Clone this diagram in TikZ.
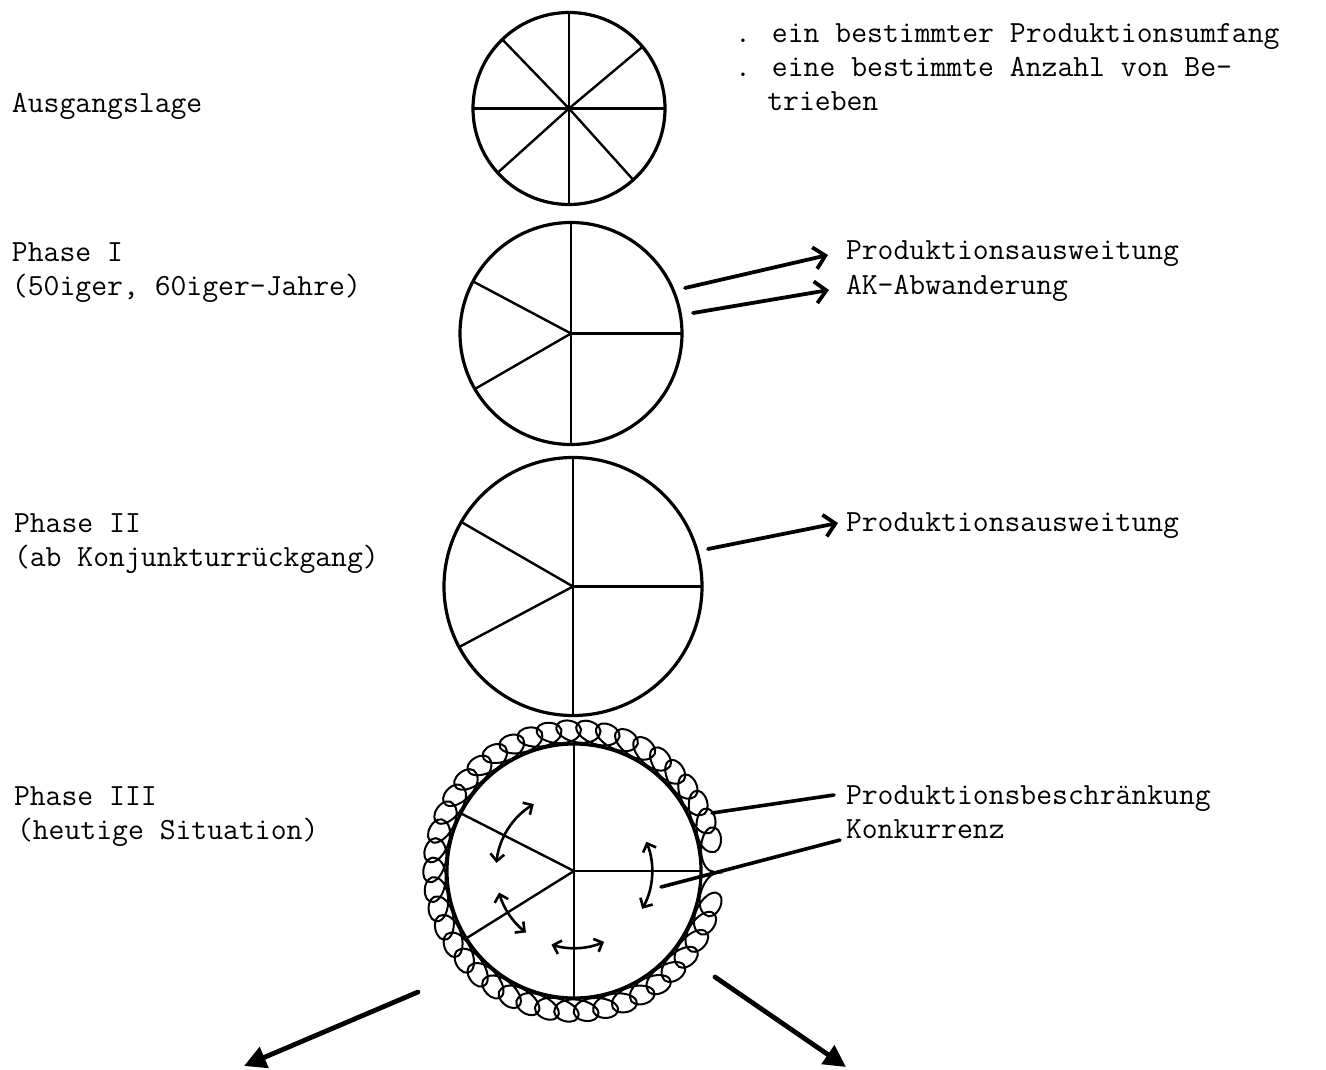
\documentclass[tikz,border=0pt]{standalone}
\usetikzlibrary{arrows.meta,decorations.pathmorphing}
\begin{document}
\begin{tikzpicture}[x=1pt,y=1pt,line cap=round,
  lbl/.style={anchor=base west, inner sep=0pt, outer sep=0pt, font=\ttfamily\fontsize{30.8}{34}\selectfont},
  pie/.style={circle, draw, line width=3.2pt, inner sep=0pt, outer sep=0pt},
  sector/.style={line width=2.4pt},
  arr/.style={line width=3.8pt, -{Straight Barb[length=11pt,width=22pt]}},
  tie/.style={line width=3.6pt},
  bigarr/.style={line width=4.8pt, -{Triangle[length=22pt,width=22pt]}},
  swap/.style={line width=2.6pt, {Straight Barb[length=7pt,width=14pt]}-{Straight Barb[length=7pt,width=14pt]}},
  loops/.style={line width=2pt, decorate, decoration={coil, amplitude=10pt, segment length=19pt, aspect=1.7}}
]
\useasboundingbox[fill=white] (0,0) rectangle (1326,-1070);

% circles
\node[pie, minimum size=192pt] (c1) at (569,-108.5) {};
\node[pie, minimum size=222pt] (c2) at (571,-333.5) {};
\node[pie, minimum size=258pt] (c3) at (573,-586.5) {};
\draw[loops] (574,-871) circle[radius=137];
\node[pie, minimum size=254pt, fill=white] (c4) at (574,-871) {};

% sectors
\foreach \a in {0,40,90,134,180,222,270,312}
  \draw[sector] (c1.center) -- (c1.\a);
\foreach \a in {0,90,152,210,270}
  \draw[sector] (c2.center) -- (c2.\a);
\foreach \a in {0,90,150,208,270}
  \draw[sector] (c3.center) -- (c3.\a);
\foreach \a in {0,90,153,212,270}
  \draw[sector] (c4.center) -- (c4.\a);

% exchange arrows in circle 4
\draw[swap] ([shift={(c4.center)}]121:78) arc[start angle=121, end angle=174, radius=78];
\draw[swap] ([shift={(c4.center)}]196:78) arc[start angle=196, end angle=232, radius=78];
\draw[swap] ([shift={(c4.center)}]253:77) arc[start angle=253, end angle=293, radius=77];
\draw[swap] ([shift={(c4.center)}]22:78) arc[start angle=22, end angle=-29, radius=78];

% left labels
\node[lbl] (aus) at (12,-113) {Ausgangslage};
\node[lbl] (p1a) at (12,-261) {Phase I};
\node[lbl] (p1b) at (12,-295) {(50iger, 60iger-Jahre)};
\node[lbl] (p2a) at (14,-532) {Phase II};
\node[lbl] (p2b) at (14,-566) {(ab Konjunkturrückgang)};
\node[lbl] (p3a) at (14,-805) {Phase III};
\node[lbl] (p3b) at (17,-839) {(heutige Situation)};

% right labels
\node[lbl] (r1) at (735,-43) {. ein bestimmter Produktionsumfang};
\node[lbl] (r2) at (735,-77) {. eine bestimmte Anzahl von Be-};
\node[lbl] (r3) at (767.3,-111) {trieben};
\node[lbl] (q1) at (846,-259) {Produktionsausweitung};
\node[lbl] (q2) at (846,-294) {AK-Abwanderung};
\node[lbl] (q3) at (846,-531) {Produktionsausweitung};
\node[lbl] (q4) at (846,-804) {Produktionsbeschränkung};
\node[lbl] (q5) at (846,-838) {Konkurrenz};

% connector ends
\coordinate (s1) at (685,-288); \coordinate (t1) at (828,-255);
\coordinate (s2) at (693,-313); \coordinate (t2) at (829,-290);
\coordinate (s3) at (708,-549); \coordinate (t3) at (838,-523);
\coordinate (s4) at (712,-813); \coordinate (t4) at (834,-795);
\coordinate (s5) at (661,-887); \coordinate (t5) at (840,-840);
\coordinate (s6) at (418,-992); \coordinate (t6) at (244,-1066);
\coordinate (s7) at (715,-977); \coordinate (t7) at (846,-1067);

\draw[arr] (s1) -- (t1);
\draw[arr] (s2) -- (t2);
\draw[arr] (s3) -- (t3);
\draw[tie] (s4) -- (t4);
\draw[tie] (s5) -- (t5);
\draw[bigarr] (s6) -- (t6);
\draw[bigarr] (s7) -- (t7);
\end{tikzpicture}
\end{document}
